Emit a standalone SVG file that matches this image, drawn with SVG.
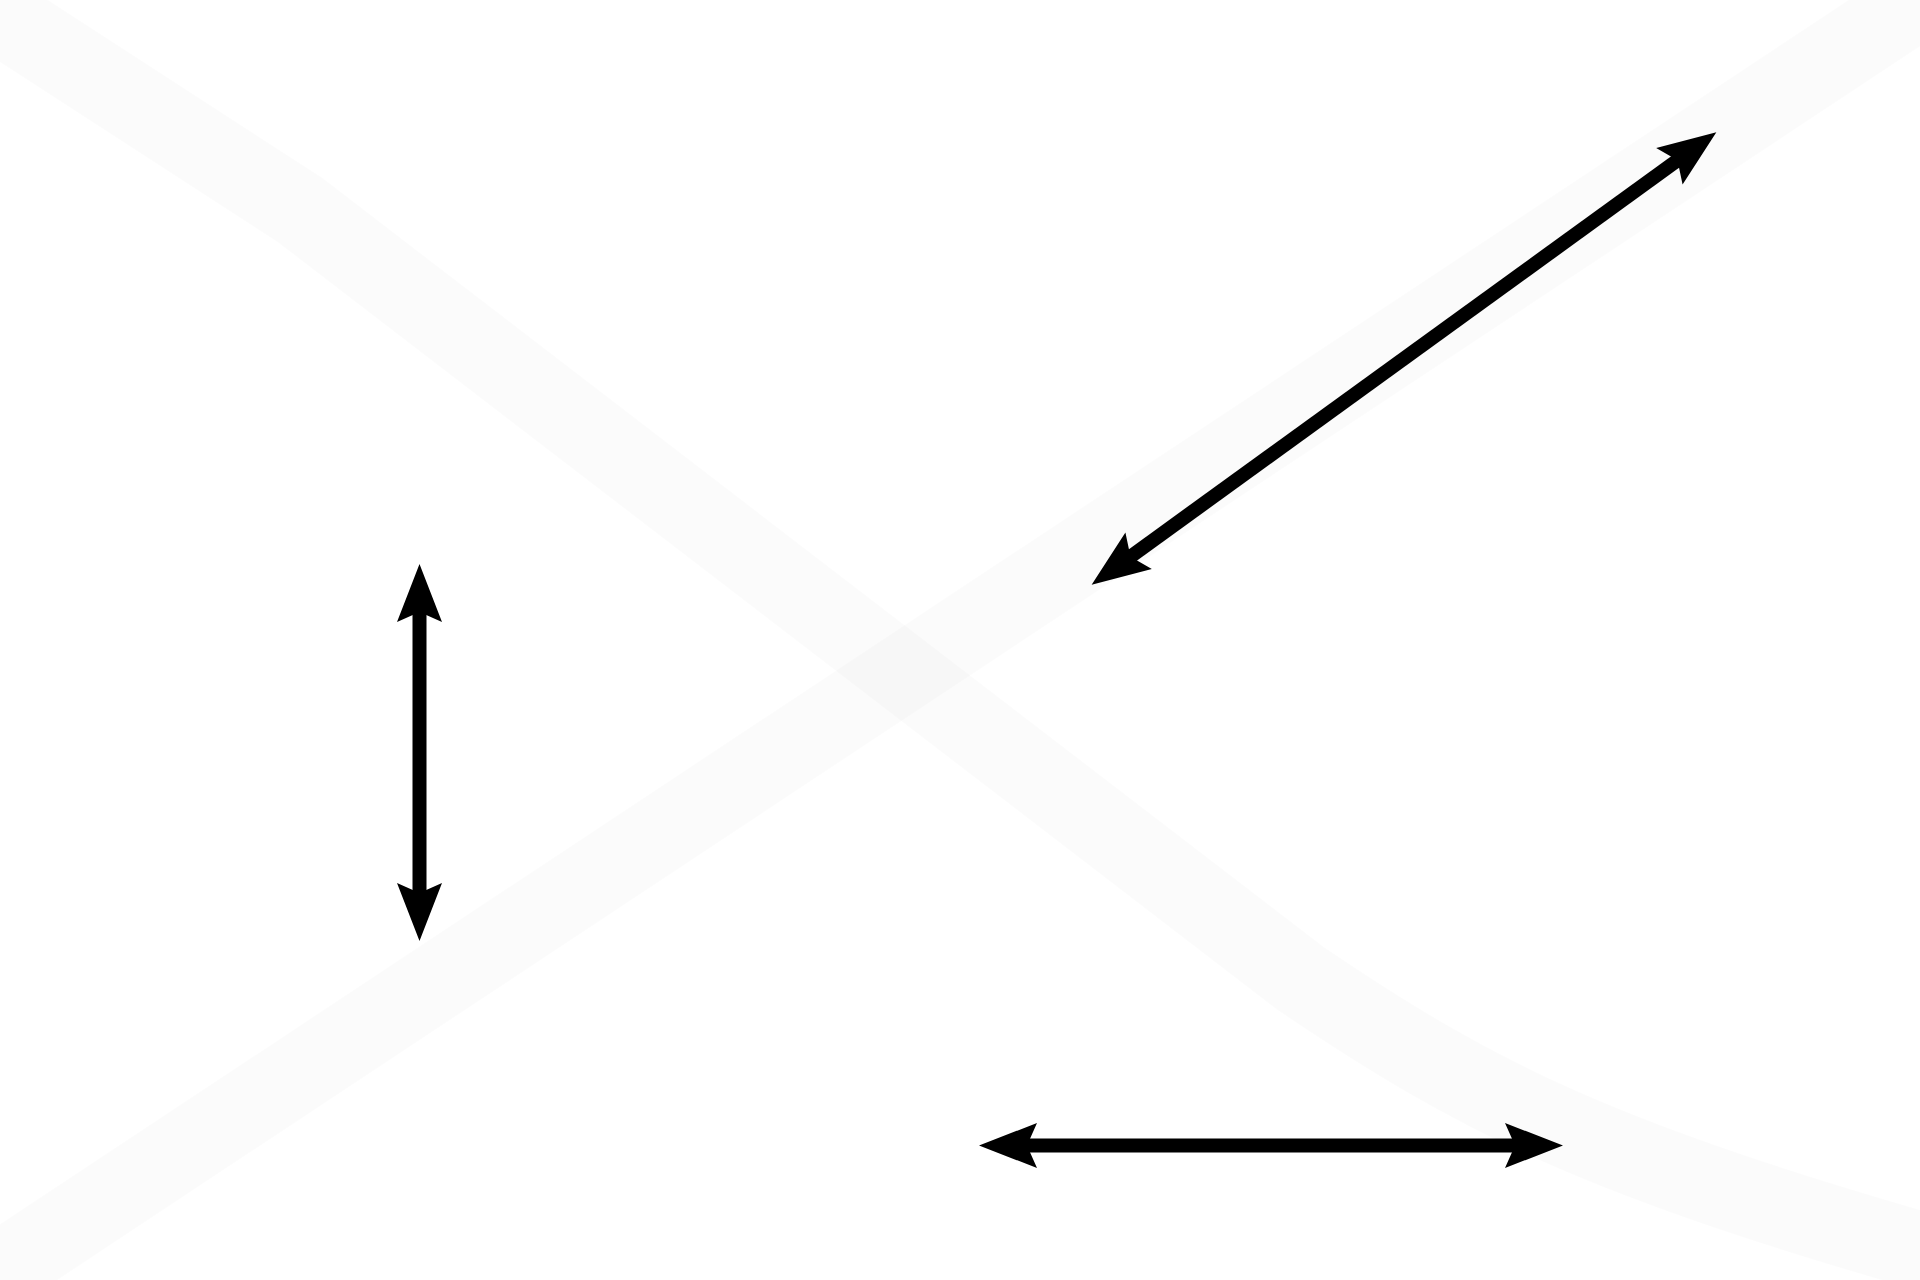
<svg xmlns="http://www.w3.org/2000/svg" width="1920" height="1280" viewBox="0 0 1920 1280">
  <style>
    .band { fill: none; stroke: #000000; stroke-opacity: 0.016; stroke-width: 78; stroke-linecap: butt; }
    .conn { fill: none; stroke: #000000; stroke-width: 14; stroke-linecap: butt; marker-start: url(#head); marker-end: url(#head); }
  </style>
  <defs>
    <marker id="head" markerUnits="userSpaceOnUse" orient="auto-start-reverse" refX="12" refY="0" markerWidth="60" markerHeight="46" overflow="visible">
      <path d="M0,-22.5 L58,0 L0,22.5 L10,0 Z" fill="#000000"/>
    </marker>
  </defs>
  <rect x="0" y="0" width="1920" height="1280" fill="#ffffff"/>
  <g id="background">
    <path class="band" d="M-30,-4 L300,210 L1300,978 C1480,1100 1600,1160 1960,1262"/>
    <path class="band" d="M-30,1291 L1960,-27"/>
  </g>
  <g id="connectors">
    <line id="arrow-vertical" class="conn" x1="419.5" y1="610" x2="419.5" y2="895"/>
    <line id="arrow-diagonal" class="conn" x1="1128.9" y1="557.8" x2="1679.1" y2="159.2"/>
    <line id="arrow-horizontal" class="conn" x1="1025" y1="1145.5" x2="1517" y2="1145.5"/>
  </g>
</svg>
